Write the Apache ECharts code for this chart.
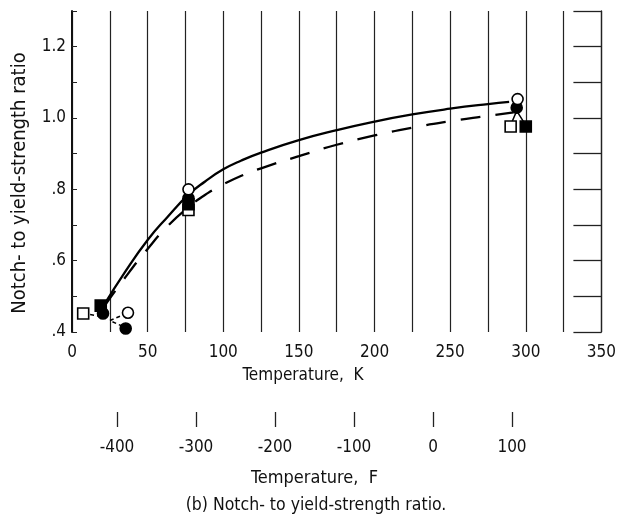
<!DOCTYPE html>
<html><head><meta charset="utf-8">
<script src="https://cdn.jsdelivr.net/npm/echarts@6/dist/echarts.min.js"></script>
<style>html,body{margin:0;padding:0;background:#fff}#c{width:619px;height:520px}</style>
</head><body><div id="c"></div>
<script>
// ---- data (temperature K, notch-to-yield-strength ratio) ----
const solidK = [21, 35, 50, 63, 77, 88, 100, 112, 125, 150, 175, 200, 225, 250, 275, 289];
const solidV = [0.475, 0.568, 0.658, 0.722, 0.785, 0.822, 0.856, 0.881, 0.903, 0.938, 0.966, 0.990, 1.010, 1.026, 1.039, 1.045];
const dashK = [21, 35, 50, 63, 77, 90, 100, 112, 125, 150, 175, 200, 225, 250, 275, 292];
const dashV = [0.47, 0.552, 0.633, 0.696, 0.75, 0.79, 0.814, 0.838, 0.859, 0.893, 0.925, 0.951, 0.973, 0.991, 1.006, 1.016];
const openCircle = [[37, 0.454], [77, 0.80], [294.6, 1.053]];
const filledCircle = [[20.5, 0.452], [35.5, 0.41], [77, 0.775], [294, 1.029]];
const openSquare = [[7.4, 0.452], [77, 0.742], [290, 0.976]];
const filledSquare = [[19, 0.474], [77, 0.758], [300, 0.976]];
const connSquare = [[7.4, 0.452], [19, 0.444]];
const connCircles = [[36, 0.452], [25, 0.432], [34.5, 0.414]];
const connRoom = [[291, 0.99], [294, 1.02], [298.5, 0.99]];
const kTickStep = 50;
const fTickStep = 100;
const yLabelStep = 0.2;

const FONT = '"Liberation Sans Narrow","DejaVu Sans Condensed","Roboto Condensed",sans-serif';
const zip = (a, b) => a.map((x, i) => [x, b[i]]);
const chart = echarts.init(document.getElementById('c'), null, {renderer: 'canvas'});
const txt = {color: '#111', fontFamily: FONT, fontSize: 17};
const mk = (name, data, symbol, filled, z) => ({
  name, type: 'line', data, symbol, symbolSize: 11, showSymbol: true,
  lineStyle: {width: 0, opacity: 0}, z,
  itemStyle: {color: filled ? '#000' : '#fff', borderColor: '#000', borderWidth: 1.6, opacity: 1}
});
chart.setOption({
  animation: false,
  grid: [
    {left: 72, right: 14, top: 11, height: 321},
    {left: 117, width: 395, top: 405, height: 22}
  ],
  xAxis: [
    {gridIndex: 0, type: 'value', min: 0, max: 350, interval: kTickStep,
     axisLine: {show: false}, axisTick: {show: false},
     axisLabel: Object.assign({margin: 12}, txt),
     splitLine: {show: true, lineStyle: {color: '#222', width: 1.2}},
     minorTick: {show: false, splitNumber: 2},
     minorSplitLine: {show: true, lineStyle: {color: '#222', width: 1.2}}},
    {gridIndex: 1, type: 'value', min: -400, max: 100, interval: fTickStep,
     axisLine: {show: false},
     axisTick: {show: true, inside: true, length: 15, lineStyle: {color: '#222', width: 1.3}},
     axisLabel: Object.assign({margin: 12}, txt),
     splitLine: {show: false},
     name: 'Temperature,  F', nameLocation: 'middle', nameGap: 42,
     nameTextStyle: Object.assign({}, txt, {fontSize: 18})}
  ],
  yAxis: [
    {gridIndex: 0, type: 'value', min: 0.4, max: 1.3, interval: 0.1,
     axisLine: {show: true, lineStyle: {color: '#111', width: 2}},
     axisTick: {show: true, inside: true, length: 5, lineStyle: {color: '#222'}},
     axisLabel: Object.assign({margin: 6,
       formatter: v => {
         const t = Math.round(v * 10);
         if (t % Math.round(yLabelStep * 10) !== 0 || t > 12) return '';
         const s = (t / 10).toFixed(1);
         return v < 1 ? s.replace(/^0/, '') : s;
       }}, txt),
     splitLine: {show: false}},
    {gridIndex: 0, type: 'value', position: 'right', min: 0.4, max: 1.3, interval: 0.1,
     axisLine: {show: true, lineStyle: {color: '#222', width: 1.3}},
     axisTick: {show: true, inside: true, length: 28, lineStyle: {color: '#222', width: 1.3}},
     axisLabel: {show: false}, splitLine: {show: false}},
    {gridIndex: 1, type: 'value', show: false}
  ],
  graphic: [
    {type: 'text', x: 20, y: 183, rotation: Math.PI / 2,
     style: {text: 'Notch- to yield-strength ratio', font: '20px ' + FONT, fill: '#111', align: 'center', verticalAlign: 'middle'}},
    {type: 'text', x: 303, y: 376,
     style: {text: 'Temperature,  K', font: '17px ' + FONT, fill: '#111', align: 'center', verticalAlign: 'middle'}},
    {type: 'text', x: 316, y: 505,
     style: {text: '(b) Notch- to yield-strength ratio.', font: '17.5px ' + FONT, fill: '#111', align: 'center', verticalAlign: 'middle'}}
  ],
  series: [
    {name: 'solid', type: 'line', data: zip(solidK, solidV), smooth: 0.5, showSymbol: false,
     lineStyle: {color: '#000', width: 2.3}, z: 3},
    {name: 'dashed', type: 'line', data: zip(dashK, dashV), smooth: 0.5, showSymbol: false,
     lineStyle: {color: '#000', width: 2.3, type: [20, 15]}, z: 3},
    {name: 'c1', type: 'line', data: connSquare, showSymbol: false, lineStyle: {color: '#000', width: 1.5, type: [4, 3]}, z: 3},
    {name: 'c2', type: 'line', data: connCircles, showSymbol: false, lineStyle: {color: '#000', width: 1.5, type: [4, 3]}, z: 3},
    {name: 'c3', type: 'line', data: connRoom, showSymbol: false, lineStyle: {color: '#000', width: 1.5}, z: 3},
    mk('open square', openSquare, 'rect', false, 5),
    mk('filled square', filledSquare, 'rect', true, 6),
    mk('filled circle', filledCircle, 'circle', true, 7),
    mk('open circle', openCircle, 'circle', false, 8)
  ]
});
</script></body></html>
